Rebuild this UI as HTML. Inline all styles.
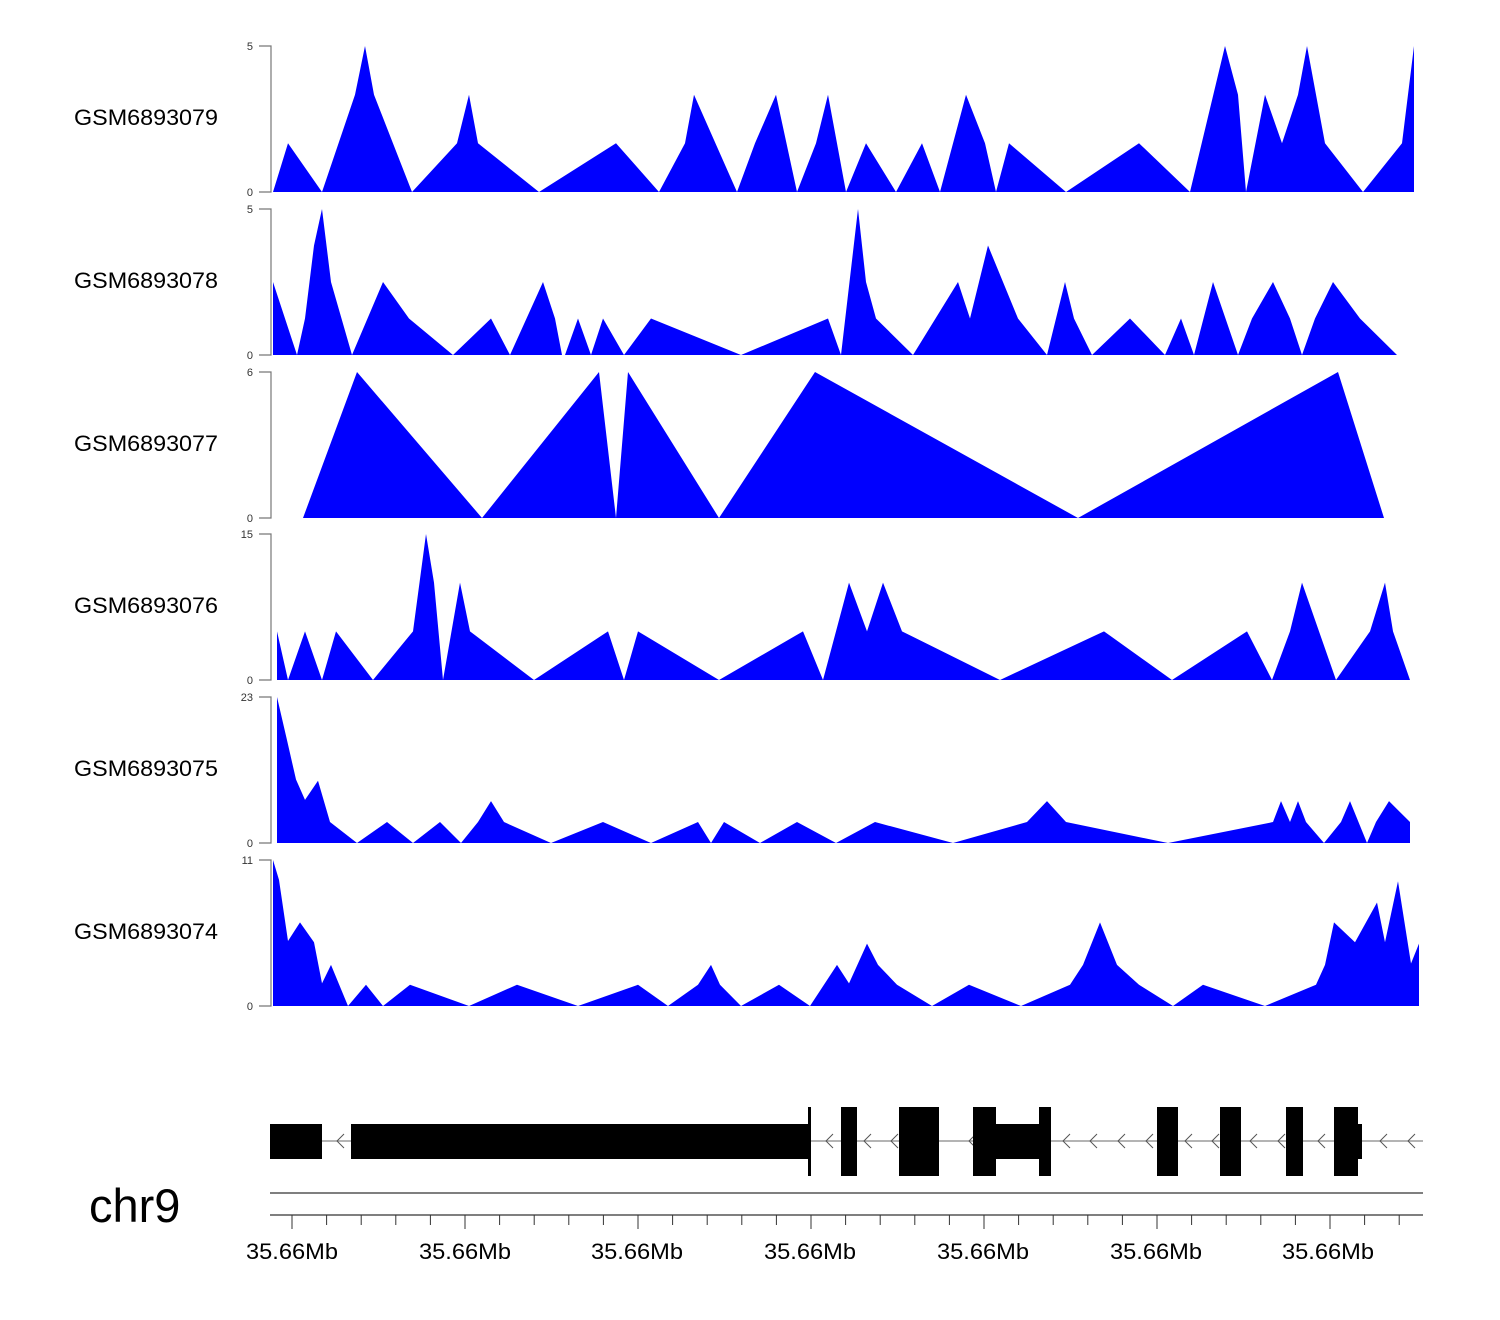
<!DOCTYPE html>
<html><head><meta charset="utf-8"><style>
body{margin:0;background:#fff}
svg{display:block;font-family:"Liberation Sans",sans-serif}
</style></head><body>
<svg id="chart" width="1500" height="1320" viewBox="0 0 1500 1320" xmlns="http://www.w3.org/2000/svg">
<g id="tracks"></g>
<g id="gene"></g>
<g id="axis"></g>
<text x="89" y="1222" font-size="47" fill="#000">chr9</text>
</svg>
<script>
// sample names, y maxima, positions (bp offset) and values
const samples = ["GSM6893079","GSM6893078","GSM6893077","GSM6893076","GSM6893075","GSM6893074"];
const yMax = [5,5,6,15,23,11];
const pos79 = [3,18,52,85,95,104,142,187,199,208,269,346,389,415,424,467,485,506,527,546,558,576,596,626,652,670,696,715,726,739,796,869,920,955,968,976,995,1012,1028,1037,1055,1093,1132,1144,1144];
const val79 = [0,1.67,0,3.33,5,3.33,0,1.67,3.33,1.67,0,1.67,0,1.67,3.33,0,1.67,3.33,0,1.67,3.33,0,1.67,0,1.67,0,3.33,1.67,0,1.67,0,1.67,0,5,3.33,0,3.33,1.67,3.33,5,1.67,0,1.67,5,0];
const pos78 = [3,15,27,35,44,52,61,82,113,139,183,221,240,273,285,292,295,308,321,333,354,381,471,558,571,588,596,606,643,688,700,718,748,777,795,804,822,860,895,911,924,943,968,982,1003,1020,1032,1045,1063,1090,1127,1127];
const val78 = [2.5,1.25,0,1.25,3.75,5,2.5,0,2.5,1.25,0,1.25,0,2.5,1.25,0,0,1.25,0,1.25,0,1.25,0,1.25,0,5,2.5,1.25,0,2.5,1.25,3.75,1.25,0,2.5,1.25,0,1.25,0,1.25,0,2.5,0,1.25,2.5,1.25,0,1.25,2.5,1.25,0,0];
const pos77 = [33,87,212,329,346,358,449,545,808,1068,1114];
const val77 = [0,6,0,6,0,6,0,6,0,6,0];
const pos76 = [7,7,18,35,52,66,103,143,156,164,173,190,200,264,338,354,368,449,533,553,579,597,613,632,730,834,902,977,1002,1020,1032,1066,1100,1115,1123,1140];
const val76 = [0,5,0,5,0,5,0,5,15,10,0,10,5,0,5,0,5,0,5,0,10,5,10,5,0,5,0,5,0,5,10,0,5,10,5,0];
const pos75 = [7,7,17,26,35,48,60,87,117,143,170,191,208,221,234,281,333,381,428,441,454,490,527,566,605,683,757,777,796,898,1003,1011,1020,1028,1036,1054,1071,1080,1097,1106,1119,1140,1140];
const val75 = [0,23,16.2,10,6.8,9.8,3.3,0,3.3,0,3.3,0,3.3,6.6,3.3,0,3.3,0,3.3,0,3.3,0,3.3,0,3.3,0,3.3,6.6,3.3,0,3.3,6.6,3.3,6.6,3.3,0,3.3,6.6,0,3.3,6.6,3.3,0];
const pos74 = [3,3,9,18,30,44,52,61,78,96,113,140,199,247,308,368,398,428,441,450,471,509,540,567,579,597,608,627,662,699,751,800,813,830,847,869,903,933,995,1046,1055,1064,1085,1107,1115,1128,1141,1149,1149];
const val74 = [0,11,9.5,4.9,6.3,4.8,1.7,3.1,0,1.6,0,1.6,0,1.6,0,1.6,0,1.6,3.1,1.6,0,1.6,0,3.1,1.7,4.7,3.1,1.6,0,1.6,0,1.6,3.1,6.3,3.1,1.6,0,1.6,0,1.6,3.1,6.3,4.8,7.8,4.8,9.4,3.2,4.7,0];
const positions = [pos79,pos78,pos77,pos76,pos75,pos74];
const values = [val79,val78,val77,val76,val75,val74];
// gene model exons: [start, end, thick(1)/thin(0)] in bp offset
const exonStart = [0,81,538,571,629,703,726,769,887,950,1016,1064,1088];
const exonEnd = [52,539,541,587,669,726,769,781,908,971,1033,1088,1092];
const exonThick = [0,0,1,1,1,1,0,1,1,1,1,1,0];
const arrowPos = [67,556,594,621,699,793,820,848,876,915,942,980,1008,1048,1110,1138];
const tickLabels = ["35.66Mb","35.66Mb","35.66Mb","35.66Mb","35.66Mb","35.66Mb","35.66Mb"];
const majorTicks = [22,195,367,540,713,886,1058];

const NS="http://www.w3.org/2000/svg";
const x0=270;
function xs(p){return x0+p;}
function mk(tag,attrs,parent){const e=document.createElementNS(NS,tag);for(const k in attrs)e.setAttribute(k,attrs[k]);parent.appendChild(e);return e;}
const tracks=document.getElementById('tracks');
const tops=[46,209,372,534,697,860];
const H=146;
samples.forEach((s,i)=>{
  const top=tops[i],base=top+H;
  const g=mk('g',{},tracks);
  
  
  const lab=mk('text',{x:74,y:top+H/2+6,'font-size':22,fill:'#000',textLength:144,lengthAdjust:'spacingAndGlyphs'},g);
  lab.textContent=s;
  
  
  const ys=v=>base-v/yMax[i]*H;
  const ax=mk('path',{d:`M259 ${top}H271V${base}H259`,stroke:'#777',fill:'none','stroke-width':1.2},g);
  
  
  [[yMax[i],top],[0,base]].forEach(([v,y])=>{
    const t=mk('text',{x:253,y:y+4,'font-size':11,'text-anchor':'end',fill:'#333'},g);
    t.textContent=v;
    
    
  });
  const P=positions[i],V=values[i];
  let d=`M${xs(P[0])} ${base}`;
  for(let k=0;k<P.length;k++)d+=`L${xs(P[k])} ${ys(V[k])}`;
  d+=`L${xs(P[P.length-1])} ${base}Z`;
  const a=mk('path',{d:d,fill:'#0000ff',stroke:'none'},g);
  
  
});
// gene
const gene=document.getElementById('gene');
const gl=mk('line',{x1:270,x2:1423,y1:1141,y2:1141,stroke:'#888','stroke-width':1.3},gene);


arrowPos.forEach(p=>{
  const a=mk('path',{d:`M${xs(p)+7} 1134L${xs(p)} 1141L${xs(p)+7} 1148`,stroke:'#555',fill:'none','stroke-width':1},gene);
  
  
});
exonStart.forEach((s,k)=>{
  const thick=exonThick[k];
  const y=thick?1107:1124,h=thick?69:35;
  const r=mk('rect',{x:xs(s),y:y,width:exonEnd[k]-s,height:h,fill:'#000'},gene);
  
  
});
// axis
const axis=document.getElementById('axis');
mk('line',{x1:270,x2:1423,y1:1193,y2:1193,stroke:'#333','stroke-width':1.2},axis);
mk('line',{x1:270,x2:1423,y1:1215,y2:1215,stroke:'#333','stroke-width':1.2},axis);
for(let k=-1;k<40;k++){
  const p=majorTicks[0]+k*34.6;
  if(p<0||xs(p)>1423)continue;
  const major=((k%5)+5)%5===0;
  const t=mk('line',{x1:xs(p),x2:xs(p),y1:1215,y2:major?1229:1225,stroke:'#333','stroke-width':1},axis);
  
  
}
majorTicks.forEach((p,k)=>{
  const t=mk('text',{x:xs(p),y:1259,'font-size':22,'text-anchor':'middle',fill:'#000',textLength:92,lengthAdjust:'spacingAndGlyphs'},axis);
  t.textContent=tickLabels[k];
  
  
});
</script>
</body></html>
